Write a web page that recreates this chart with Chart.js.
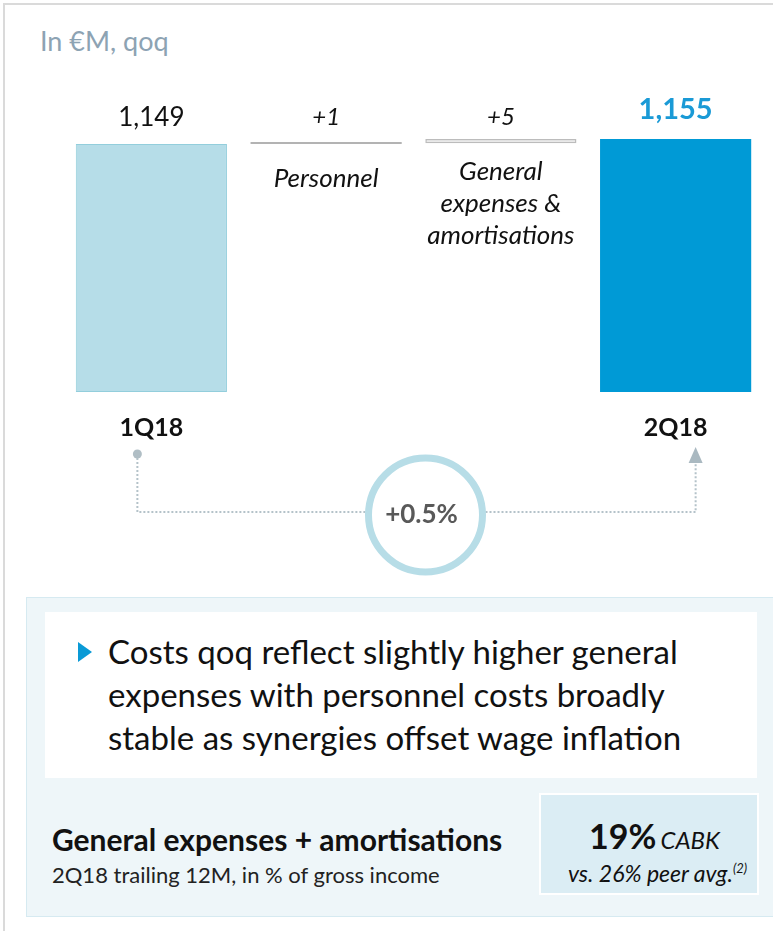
<!DOCTYPE html>
<html>
<head>
<meta charset="utf-8">
<script src="https://cdn.jsdelivr.net/npm/chart.js@4"></script>
<style>
  body { margin: 0; background: #fff; font-family: Lato, "Open Sans", sans-serif; }
  #page { position: relative; width: 773px; height: 931px; overflow: hidden; }
  #frame { position: absolute; left: 3px; top: 3px; width: 780px; height: 940px;
           border-top: 2px solid #dadada; border-left: 2px solid #dadada; }
  #title { position: absolute; left: 40px; top: 24px; font-size: 27px; color: #8da3b3; }
  #grafica { position: absolute; left: 0; top: 0; }
  #panel { position: absolute; left: 26px; top: 597px; width: 770px; height: 318px;
           background: #eef6f9; border: 1px solid #d6eaf1; }
  #nota { position: absolute; left: 45px; top: 612px; width: 712px; height: 166px; background: #fff; }
  #bullet { position: absolute; left: 78px; top: 642px; width: 0; height: 0;
            border-top: 10px solid transparent; border-bottom: 10px solid transparent;
            border-left: 14px solid #0a9ad6; }
  #texto { position: absolute; left: 108px; top: 630px; font-size: 33px; line-height: 43px; color: #111; white-space: nowrap; }
  #ratioTitulo { position: absolute; left: 52px; top: 821px; font-size: 30px; font-weight: bold; color: #111; white-space: nowrap; }
  #ratioSub { position: absolute; left: 52px; top: 861px; font-size: 22px; color: #222; white-space: nowrap; }
  #caja { position: absolute; left: 539px; top: 793px; width: 216px; height: 98px;
          background: #dbedf4; border: 2px solid #fff; color: #111; white-space: nowrap; }
  #caja .big { font-size: 34px; font-weight: bold; }
  #caja .it { font-style: italic; font-size: 23px; }
  #caja sup { font-size: 13px; }
</style>
</head>
<body>
<div id="page">
  <div id="frame"></div>
  <div id="title">In €M, qoq</div>
  <canvas id="grafica" width="773" height="600"></canvas>
  <div id="panel"></div>
  <div id="nota"></div>
  <div id="bullet"></div>
  <div id="texto">Costs qoq reflect slightly higher general<br>expenses with personnel costs broadly<br>stable as synergies offset wage inflation</div>
  <div id="ratioTitulo">General expenses + amortisations</div>
  <div id="ratioSub">2Q18 trailing 12M, in % of gross income</div>
  <div id="caja">
    <div style="position:absolute; left:48px; top:22px; line-height:38px;"><span class="big">19%</span>&nbsp;<span class="it" style="font-size:24px;">CABK</span></div>
    <div class="it" style="position:absolute; left:27px; top:59px; line-height:28px;">vs. 26% peer avg.<sup>(2)</sup></div>
  </div>
</div>
<script>
// Datos
const categorias = ["1Q18", "Personnel", "General expenses & amortisations", "2Q18"];
const valorInicial = 1149;
const pasos = [1, 5];
const valorFinal = 1155;
const etiquetasValor = ["1,149", "+1", "+5", "1,155"];
const nombresPaso = [[], ["Personnel"], ["General", "expenses &", "amortisations"], []];
const etiquetaCambio = "+0.5%";
const baseEje = 851;   // eje cortado, como en la diapositiva
const topeEje = 1202;

// Barras flotantes de la cascada
const rangos = [[baseEje, valorInicial]];
let acumulado = valorInicial;
pasos.forEach(p => { rangos.push([acumulado, acumulado + p]); acumulado += p; });
rangos.push([baseEje, valorFinal]);

const FUENTE = "Lato, 'Open Sans', sans-serif";

const textos = {
    id: "textos",
    afterDatasetsDraw(chart) {
        const ctx = chart.ctx;
        const xs = chart.scales.x;
        const ys = chart.scales.y;
        ctx.save();
        ctx.textAlign = "center";
        ctx.textBaseline = "middle";

        // Etiquetas de valor
        etiquetasValor.forEach((t, i) => {
            const x = xs.getPixelForValue(i);
            const top = ys.getPixelForValue(rangos[i][1]);
            if (i === 0) { ctx.font = "26px " + FUENTE; ctx.fillStyle = "#111"; ctx.fillText(t, x, top - 26); }
            else if (i === 3) { ctx.font = "bold 29px " + FUENTE; ctx.fillStyle = "#1a9ad6"; ctx.fillText(t, x, top - 29); }
            else { ctx.font = "italic 24px " + FUENTE; ctx.fillStyle = "#111"; ctx.fillText(t, x, 117); }
        });

        // Nombres de los pasos
        ctx.font = "italic 26px " + FUENTE;
        ctx.fillStyle = "#111";
        nombresPaso.forEach((lineas, i) => {
            const x = xs.getPixelForValue(i);
            lineas.forEach((l, j) => {
                const y = lineas.length === 1 ? 179 : 172 + j * 32;
                ctx.fillText(l, x, y);
            });
        });

        // Categorias
        ctx.font = "bold 25px " + FUENTE;
        [0, 3].forEach(i => ctx.fillText(categorias[i], xs.getPixelForValue(i), 428));

        // Conector punteado
        const x0 = xs.getPixelForValue(0) - 14;
        const x3 = xs.getPixelForValue(3) + 20;
        const cx = (x0 + x3) / 2 + 9;
        const cy = 515;
        const r = 57;
        ctx.fillStyle = "#b0bec5";
        ctx.beginPath(); ctx.arc(x0, 454, 4.5, 0, Math.PI * 2); ctx.fill();
        ctx.strokeStyle = "#b4c2c9";
        ctx.lineWidth = 2;
        ctx.setLineDash([2, 2]);
        ctx.beginPath();
        ctx.moveTo(x0, 458); ctx.lineTo(x0, 512); ctx.lineTo(cx - r - 3, 512);
        ctx.moveTo(cx + r + 3, 512); ctx.lineTo(x3, 512); ctx.lineTo(x3, 462);
        ctx.stroke();
        ctx.setLineDash([]);
        ctx.fillStyle = "#aab9c1";
        ctx.beginPath(); ctx.moveTo(x3, 447); ctx.lineTo(x3 - 7, 463); ctx.lineTo(x3 + 7, 463); ctx.closePath(); ctx.fill();

        ctx.strokeStyle = "#b7dde7";
        ctx.lineWidth = 7;
        ctx.beginPath(); ctx.arc(cx, cy, r, 0, Math.PI * 2); ctx.stroke();
        ctx.font = "bold 26px " + FUENTE;
        ctx.fillStyle = "#595959";
        ctx.fillText(etiquetaCambio, cx - 4, cy);
        ctx.restore();
    }
};

new Chart(document.getElementById("grafica").getContext("2d"), {
    type: "bar",
    data: {
        labels: categorias,
        datasets: [{
            data: rangos,
            backgroundColor: ["#b6dde8", "#b3b3b3", "#e8e8e8", "#009ad6"],
            borderColor: ["#93cedc", "#b3b3b3", "#bcbcbc", "#009ad6"],
            borderWidth: [1, 0, 1.5, 0],
            borderSkipped: false,
            minBarLength: 2,
            categoryPercentage: 1,
            barPercentage: 0.865
        }]
    },
    options: {
        responsive: false,
        animation: false,
        devicePixelRatio: 1,
        layout: { padding: { left: 64, right: 10, top: 100, bottom: 208 } },
        plugins: { legend: { display: false }, tooltip: { enabled: false } },
        scales: {
            x: { display: false },
            y: { display: false, min: baseEje, max: topeEje }
        }
    },
    plugins: [textos]
});
</script>
</body>
</html>
